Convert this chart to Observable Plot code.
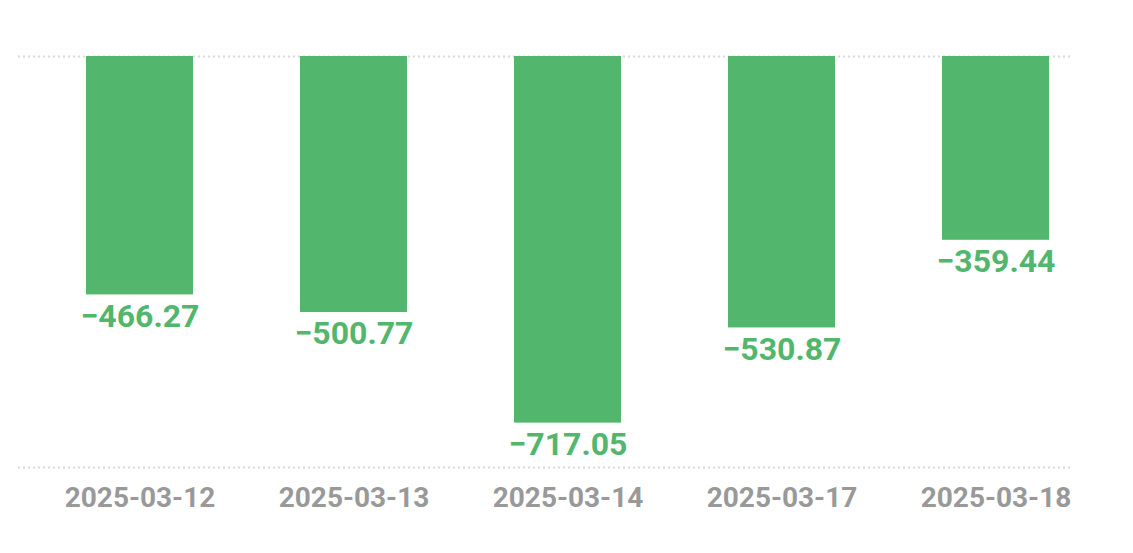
<!DOCTYPE html>
<html>
<head>
<meta charset="utf-8">
<script src="https://cdn.jsdelivr.net/npm/d3@7"></script>
<script src="https://cdn.jsdelivr.net/npm/@observablehq/plot@0.6"></script>
<style>
  html, body { margin: 0; padding: 0; background: #fff; }
  svg { display: block; }
</style>
</head>
<body>
<div id="chart"></div>
<script>
const dates = ["2025-03-12", "2025-03-13", "2025-03-14", "2025-03-17", "2025-03-18"];
const values = [-466.27, -500.77, -717.05, -530.87, -359.44];

const data = dates.map((d, i) => ({date: d, value: values[i]}));
const minV = d3.min(values);
const fmt = d3.format(".2f");
const green = "#52b76c";

const chart = Plot.plot({
  width: 1133,
  height: 553,
  marginTop: 56,
  marginBottom: 86,
  marginLeft: 18,
  marginRight: 60,
  style: {background: "#fff", fontFamily: "Roboto, 'Noto Sans', sans-serif"},
  x: {domain: dates, range: [32.4, 1103.6], paddingInner: 0.5, paddingOuter: 0.25, label: null},
  y: {domain: [minV * 1.121, 0], axis: null},
  marks: [
    Plot.ruleY([0, minV * 1.121], {stroke: "#d9d9d9", strokeWidth: 2, strokeDasharray: "2,3"}),
    Plot.barY(data, {x: "date", y: "value", fill: green}),
    Plot.text(data, {
      x: "date", y: "value", text: d => fmt(d.value),
      lineAnchor: "top", dy: 9, fill: green, fontSize: 32, fontWeight: "bold",
      letterSpacing: "-1px"
    }),
    Plot.axisX({
      tickSize: 0, tickPadding: 20, fontSize: 28, fontWeight: "bold", color: "#999",
      label: null, letterSpacing: "-0.5px"
    })
  ]
});
document.getElementById("chart").appendChild(chart);
</script>
</body>
</html>
